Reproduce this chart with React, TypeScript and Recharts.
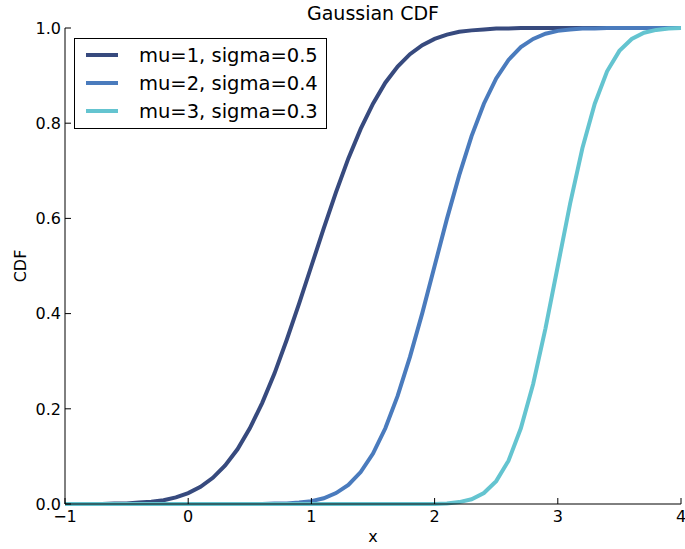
import { Line, LineChart, XAxis, YAxis } from "recharts"

const xs = [
  -1.0, -0.9, -0.8, -0.7, -0.6, -0.5, -0.4, -0.3, -0.2, -0.1,
  0.0, 0.1, 0.2, 0.3, 0.4, 0.5, 0.6, 0.7, 0.8, 0.9,
  1.0, 1.1, 1.2, 1.3, 1.4, 1.5, 1.6, 1.7, 1.8, 1.9,
  2.0, 2.1, 2.2, 2.3, 2.4, 2.5, 2.6, 2.7, 2.8, 2.9,
  3.0, 3.1, 3.2, 3.3, 3.4, 3.5, 3.6, 3.7, 3.8, 3.9,
  4.0,
]

const mu1 = [
  0.0, 0.0, 0.0, 0.0, 0.001, 0.001, 0.003, 0.005, 0.008, 0.014,
  0.023, 0.036, 0.055, 0.081, 0.115, 0.159, 0.212, 0.274, 0.345, 0.421,
  0.5, 0.579, 0.655, 0.726, 0.788, 0.841, 0.885, 0.919, 0.945, 0.964,
  0.977, 0.986, 0.992, 0.995, 0.997, 0.999, 0.999, 1.0, 1.0, 1.0,
  1.0, 1.0, 1.0, 1.0, 1.0, 1.0, 1.0, 1.0, 1.0, 1.0,
  1.0,
]

const mu2 = [
  0.0, 0.0, 0.0, 0.0, 0.0, 0.0, 0.0, 0.0, 0.0, 0.0,
  0.0, 0.0, 0.0, 0.0, 0.0, 0.0, 0.0, 0.001, 0.001, 0.003,
  0.006, 0.012, 0.023, 0.04, 0.067, 0.106, 0.159, 0.227, 0.309, 0.401,
  0.5, 0.599, 0.691, 0.773, 0.841, 0.894, 0.933, 0.96, 0.977, 0.988,
  0.994, 0.997, 0.999, 0.999, 1.0, 1.0, 1.0, 1.0, 1.0, 1.0,
  1.0,
]

const mu3 = [
  0.0, 0.0, 0.0, 0.0, 0.0, 0.0, 0.0, 0.0, 0.0, 0.0,
  0.0, 0.0, 0.0, 0.0, 0.0, 0.0, 0.0, 0.0, 0.0, 0.0,
  0.0, 0.0, 0.0, 0.0, 0.0, 0.0, 0.0, 0.0, 0.0, 0.0,
  0.0, 0.001, 0.004, 0.01, 0.023, 0.048, 0.091, 0.159, 0.252, 0.369,
  0.5, 0.631, 0.748, 0.841, 0.909, 0.952, 0.977, 0.99, 0.996, 0.999,
  1.0,
]

const xTicks = [-1, 0, 1, 2, 3, 4]
const yTicks = [0, 0.2, 0.4, 0.6, 0.8, 1.0]

const series = [
  { key: "a", name: "mu=1, sigma=0.5", values: mu1, color: "#374a7e" },
  { key: "b", name: "mu=2, sigma=0.4", values: mu2, color: "#4a7bbd" },
  { key: "c", name: "mu=3, sigma=0.3", values: mu3, color: "#64c4d0" },
]

const data = xs.map((x, i) => {
  const row: Record<string, number> = { x }
  series.forEach((s) => (row[s.key] = s.values[i]))
  return row
})

const font = "'DejaVu Sans', sans-serif"

const fmtX = (v: number) => (v < 0 ? `\u2212${Math.abs(v)}` : `${v}`)

function BottomTick(props: any) {
  const { x, y, payload } = props
  return (
    <g>
      <line x1={x} x2={x} y1={y} y2={y - 6} stroke="#000" />
      <text x={x} y={y + 6} dy="0.72em" textAnchor="middle" fontSize={16} fontFamily={font} fill="#000">
        {fmtX(payload.value)}
      </text>
    </g>
  )
}

function TopTick(props: any) {
  const { x, y } = props
  return <line x1={x} x2={x} y1={y} y2={y + 6} stroke="#000" />
}

function LeftTick(props: any) {
  const { x, y, payload } = props
  return (
    <g>
      <line x1={x} x2={x + 6} y1={y} y2={y} stroke="#000" />
      <text x={x - 4} y={y} dy="0.36em" textAnchor="end" fontSize={16} fontFamily={font} fill="#000">
        {payload.value.toFixed(1)}
      </text>
    </g>
  )
}

function RightTick(props: any) {
  const { x, y } = props
  return <line x1={x} x2={x - 6} y1={y} y2={y} stroke="#000" />
}

export default function App() {
  return (
    <div style={{ position: "absolute", left: 0, top: 0, width: 685, height: 549, fontFamily: font, background: "#fff" }}>
      <LineChart width={685} height={549} data={data} margin={{ top: 28, right: 4, bottom: 0, left: 15 }}>
        <XAxis
          dataKey="x"
          type="number"
          domain={[-1, 4]}
          ticks={xTicks}
          height={45}
          tickSize={0}
          tickMargin={0}
          tickLine={false}
          tick={<BottomTick />}
          axisLine={{ stroke: "#000" }}
          interval={0}
        />
        <XAxis
          xAxisId="top"
          orientation="top"
          dataKey="x"
          type="number"
          domain={[-1, 4]}
          ticks={xTicks}
          height={0}
          tickSize={0}
          tickMargin={0}
          tickLine={false}
          tick={<TopTick />}
          axisLine={{ stroke: "#000" }}
          interval={0}
        />
        <YAxis
          type="number"
          domain={[0, 1]}
          ticks={yTicks}
          width={50}
          tickSize={0}
          tickMargin={0}
          tickLine={false}
          tick={<LeftTick />}
          axisLine={{ stroke: "#000" }}
          interval={0}
        />
        <YAxis
          yAxisId="right"
          orientation="right"
          type="number"
          domain={[0, 1]}
          ticks={yTicks}
          width={0}
          tickSize={0}
          tickMargin={0}
          tickLine={false}
          tick={<RightTick />}
          axisLine={{ stroke: "#000" }}
          interval={0}
        />
        {series.map((s) => (
          <Line
            key={s.key}
            type="linear"
            dataKey={s.key}
            name={s.name}
            stroke={s.color}
            strokeWidth={4}
            dot={false}
            isAnimationActive={false}
          />
        ))}
      </LineChart>

      <div style={{ position: "absolute", left: 0, width: 685, top: 0, paddingLeft: 61, boxSizing: "border-box", textAlign: "center", fontSize: 19, lineHeight: "26px" }}>
        Gaussian CDF
      </div>
      <div style={{ position: "absolute", left: 65, width: 616, top: 527, textAlign: "center", fontSize: 16, lineHeight: "20px" }}>
        x
      </div>
      <div
        style={{
          position: "absolute",
          left: 20,
          top: 266,
          fontSize: 16,
          transform: "translate(-50%, -50%) rotate(-90deg)",
          whiteSpace: "nowrap",
        }}
      >
        CDF
      </div>

      <div
        style={{
          position: "absolute",
          left: 74,
          top: 38,
          width: 253,
          height: 91,
          border: "1px solid #000",
          boxSizing: "border-box",
          background: "#fff",
        }}
      >
        {series.map((s, i) => (
          <div key={s.key} style={{ position: "absolute", left: 0, top: 2 + i * 28, height: 28, display: "flex", alignItems: "center" }}>
            <div style={{ marginLeft: 11, width: 32, height: 4, background: s.color }} />
            <div style={{ marginLeft: 21, fontSize: 19.5, whiteSpace: "nowrap" }}>{s.name}</div>
          </div>
        ))}
      </div>
    </div>
  )
}
